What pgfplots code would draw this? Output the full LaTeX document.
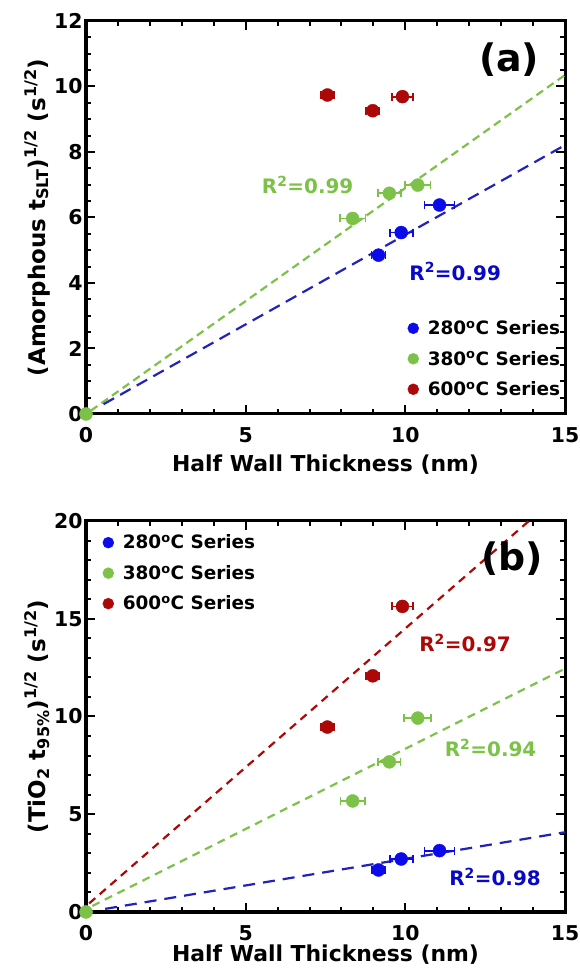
\documentclass[border=0pt]{standalone}
\usepackage{fontspec}
\setmainfont{DejaVu Sans}
\usepackage{pgfplots}
\pgfplotsset{compat=1.18}
\usepackage{pgfplotstable}

\definecolor{cblue}{RGB}{10,10,235}
\definecolor{cbluel}{RGB}{35,35,185}
\definecolor{cgreen}{RGB}{124,194,72}
\definecolor{cred}{RGB}{172,8,8}

% panel (a): amorphous
\pgfplotstableread{
x y ex
9.16 4.85 0.22
9.87 5.54 0.36
11.07 6.38 0.47
}\aBlue
\pgfplotstableread{
x y ex
0 0 0
8.35 5.97 0.40
9.50 6.74 0.36
10.39 6.99 0.40
}\aGreen
\pgfplotstableread{
x y ex
7.56 9.74 0.20
8.98 9.26 0.20
9.91 9.69 0.33
}\aRed
% panel (b): TiO2
\pgfplotstableread{
x y ex
9.16 2.15 0.20
9.87 2.71 0.36
11.07 3.14 0.47
}\bBlue
\pgfplotstableread{
x y ex
0 0 0
8.35 5.68 0.38
9.50 7.68 0.35
10.39 9.92 0.42
}\bGreen
\pgfplotstableread{
x y ex
7.56 9.46 0.20
8.98 12.08 0.20
9.91 15.63 0.34
}\bRed

\pgfplotsset{
  panel/.style={
    scale only axis, width=479bp,
    xmin=0, xmax=15, xtick={0,5,10,15}, minor x tick num=4,
    axis line style={line width=3bp, line cap=rect},
    tick style={line width=2bp, black},
    major tick length=9bp, minor tick length=5bp,
    /pgf/number format/assume math mode=true,
    tick label style={font=\fontsize{20.5}{20.5}\selectfont\bfseries},
    xticklabel style={yshift=-10bp},
    label style={font=\fontsize{22}{22}\selectfont\bfseries},
    ylabel style={font=\fontsize{23}{23}\selectfont\bfseries},
    xlabel={Half Wall Thickness (nm)},
    clip=false,
    legend style={draw=none, fill=none, font=\fontsize{18.5}{18.5}\selectfont\bfseries, row sep=11bp, column sep=7bp, inner sep=0pt},
    legend cell align=left,
  },
  dots/.style={only marks, mark=*, mark size=6.5bp, color=#1, mark options={fill=#1, draw=#1},
    error bars/x dir=both, error bars/x explicit,
    error bars/error bar style={line width=1.8bp, color=#1},
    error bars/error mark=|,
    error bars/error mark options={mark size=4bp, line width=1.8bp, color=#1}},
  fit/.style={line width=2.2bp, color=#1},
  lgd/.style={only marks, mark=*, mark size=5.5bp, color=#1, mark options={fill=#1, draw=#1}},
}

\begin{document}
\begin{tikzpicture}
\useasboundingbox (0,0) rectangle (580bp,973bp);

% ---------- panel (a)
\begin{axis}[panel, at={(86bp,559bp)}, anchor=south west, height=393bp,
  ymin=0, ymax=12, ytick={0,2,4,6,8,10,12}, minor y tick num=3,
  ylabel={(Amorphous t\textsubscript{SLT})\textsuperscript{1/2} (s\textsuperscript{1/2})},
  ylabel style={at={(axis description cs:-0.102,0.5)}, anchor=center},
  xlabel style={at={(axis description cs:0.5,-0.128)}, anchor=center},
  legend style={at={(axis cs:10.07,2.92)}, anchor=north west},
]
\addplot[fit=cgreen, dash pattern=on 8bp off 5bp, forget plot] coordinates {(0.15,0.10) (15,10.35)};
\addplot[fit=cbluel, dash pattern=on 12bp off 7bp, forget plot] coordinates {(0.55,0.30) (15,8.21)};
\addplot[forget plot, dots=cblue] table[x=x, y=y, x error=ex] {\aBlue};
\addplot[forget plot, dots=cgreen] table[x=x, y=y, x error=ex] {\aGreen};
\addplot[forget plot, dots=cred] table[x=x, y=y, x error=ex] {\aRed};
\addlegendimage{lgd=cblue}
\addlegendentry{280\textsuperscript{o}C Series}
\addlegendimage{lgd=cgreen}
\addlegendentry{380\textsuperscript{o}C Series}
\addlegendimage{lgd=cred}
\addlegendentry{600\textsuperscript{o}C Series}
\node[font=\fontsize{20}{20}\selectfont\bfseries, text=cgreen] at (axis cs:6.94,6.99) {R\textsuperscript{2}=0.99};
\node[font=\fontsize{20}{20}\selectfont\bfseries, text=cblue!85!black] at (axis cs:11.56,4.35) {R\textsuperscript{2}=0.99};
\node[font=\fontsize{38}{38}\selectfont\bfseries] at (axis cs:13.25,10.81) {(a)};
\end{axis}

% ---------- panel (b)
\begin{axis}[panel, at={(86bp,61bp)}, anchor=south west, height=391bp,
  ymin=0, ymax=20, ytick={0,5,10,15,20}, minor y tick num=4,
  ylabel={(TiO\textsubscript{2} t\textsubscript{95\%})\textsuperscript{1/2} (s\textsuperscript{1/2})},
  ylabel style={at={(axis description cs:-0.102,0.5)}, anchor=center},
  xlabel style={at={(axis description cs:0.5,-0.109)}, anchor=center},
  legend style={at={(axis cs:0.52,19.4)}, anchor=north west},
]
\addplot[fit=cred, dash pattern=on 8bp off 6bp, forget plot] coordinates {(0.1,0.44) (13.87,20)};
\addplot[fit=cgreen, dash pattern=on 8bp off 6bp, forget plot] coordinates {(0.2,0.31) (15,12.45)};
\addplot[fit=cbluel, dash pattern=on 12bp off 8bp, forget plot] coordinates {(0.6,0.16) (15,4.08)};
\addplot[forget plot, dots=cblue] table[x=x, y=y, x error=ex] {\bBlue};
\addplot[forget plot, dots=cgreen] table[x=x, y=y, x error=ex] {\bGreen};
\addplot[forget plot, dots=cred] table[x=x, y=y, x error=ex] {\bRed};
\addlegendimage{lgd=cblue}
\addlegendentry{280\textsuperscript{o}C Series}
\addlegendimage{lgd=cgreen}
\addlegendentry{380\textsuperscript{o}C Series}
\addlegendimage{lgd=cred}
\addlegendentry{600\textsuperscript{o}C Series}
\node[font=\fontsize{20}{20}\selectfont\bfseries, text=cred] at (axis cs:11.87,13.75) {R\textsuperscript{2}=0.97};
\node[font=\fontsize{20}{20}\selectfont\bfseries, text=cgreen] at (axis cs:12.67,8.39) {R\textsuperscript{2}=0.94};
\node[font=\fontsize{20}{20}\selectfont\bfseries, text=cblue!85!black] at (axis cs:12.81,1.78) {R\textsuperscript{2}=0.98};
\node[font=\fontsize{38}{38}\selectfont\bfseries] at (axis cs:13.34,18.1) {(b)};
\end{axis}
\end{tikzpicture}
\end{document}
